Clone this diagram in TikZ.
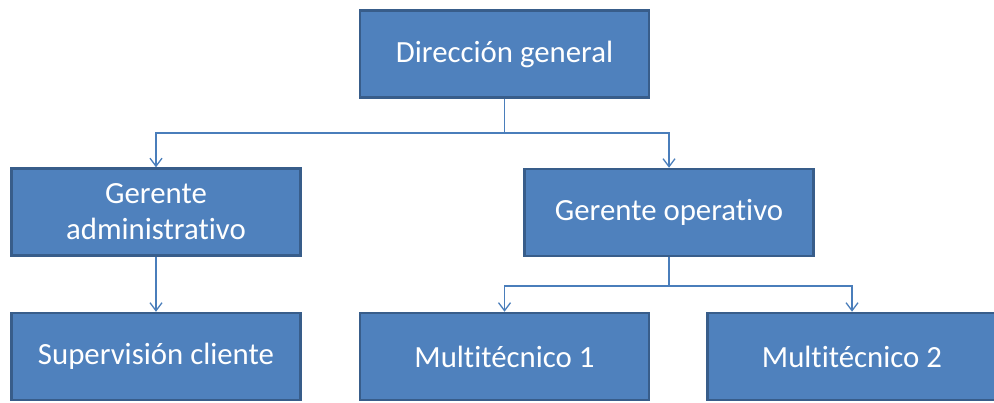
\documentclass[tikz,border=0pt]{standalone}
\usepackage{fontspec}
\setmainfont{Carlito}[Ligatures=NoCommon]
\usetikzlibrary{arrows.meta}
\definecolor{boxfill}{HTML}{4F81BD}
\definecolor{boxline}{HTML}{385D8A}
\definecolor{connc}{HTML}{4A7EBB}
\begin{document}
\begin{tikzpicture}[x=1pt,y=-1pt,
  box/.style={rectangle, fill=boxfill, draw=boxline, line width=2.5pt,
    minimum width=289pt, minimum height=87pt, inner sep=0pt,
    text=white, align=center, font=\fontsize{30.8}{36}\selectfont},
  conn/.style={draw=connc, line width=1.3pt},
  arr/.style={conn, -{Straight Barb[length=8pt,width=12pt,line width=1.3pt]}}]
\useasboundingbox (0,0) rectangle (994,402);
\node[box] (dg) at (504.5,54) {Dirección general};
\node[box] (ga) at (156,212) {Gerente\\administrativo};
\node[box] (go) at (669,212.5) {Gerente operativo};
\node[box] (sc) at (156,356.5) {Supervisión cliente};
\node[box] (m1) at (504.5,356.5) {Multitécnico 1};
\node[box] (m2) at (852,356.5) {Multitécnico 2};
\coordinate (j1) at (504.5,133);
\coordinate (j2) at (669,286);
\draw[conn] (dg.south) -- (j1);
\draw[arr] (j1) -| (ga.north);
\draw[arr] (j1) -| (go.north);
\draw[arr] (ga.south) -- (sc.north);
\draw[conn] (go.south) -- (j2);
\draw[arr] (j2) -| (m1.north);
\draw[arr] (j2) -| (m2.north);
\end{tikzpicture}
\end{document}
